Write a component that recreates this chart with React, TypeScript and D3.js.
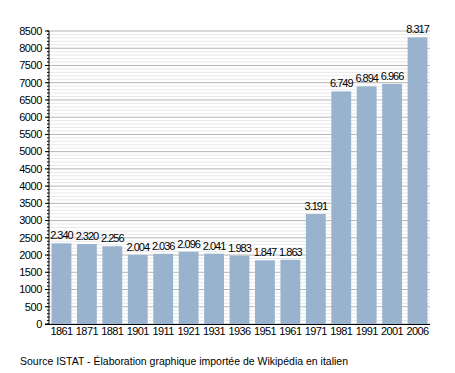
import * as d3 from 'd3';

const years = ['1861', '1871', '1881', '1901', '1911', '1921', '1931', '1936', '1951', '1961', '1971', '1981', '1991', '2001', '2006'];
const population = [2340, 2320, 2256, 2004, 2036, 2096, 2041, 1983, 1847, 1863, 3191, 6749, 6894, 6966, 8317];
const valueLabels = ['2.340', '2.320', '2.256', '2.004', '2.036', '2.096', '2.041', '1.983', '1.847', '1.863', '3.191', '6.749', '6.894', '6.966', '8.317'];
const yTicks = d3.range(0, 8501, 500);
const minorTicks = d3.range(0, 8501, 100);
const sourceNote = 'Source ISTAT - Élaboration graphique importée de Wikipédia en italien';

const W = 455;
const H = 373;
const left = 49;
const right = 430;
const top = 31;
const bottom = 324;
const barColor = '#99b3cf';
const font = '"Liberation Sans", Arial, sans-serif';

export default function App() {
  const x = d3.scaleBand<string>().domain(years).range([left, right]).paddingInner(0.22).paddingOuter(0.1);
  const y = d3.scaleLinear().domain([0, 8500]).range([bottom, top]);

  return (
    <svg width={W} height={H} style={{ position: 'absolute', left: 0, top: 0, background: '#fff' }}>
      {/* minor gridlines */}
      {minorTicks.filter(t => t % 500 !== 0).map(t => (
        <line key={'m' + t} x1={left} x2={right} y1={y(t)} y2={y(t)} stroke="#e8e8e8" strokeWidth={1} />
      ))}
      {/* major gridlines */}
      {yTicks.map(t => (
        <line key={'g' + t} x1={left} x2={right} y1={y(t)} y2={y(t)} stroke="#b4b4b4" strokeWidth={1} />
      ))}
      {/* bars */}
      {years.map((yr, i) => (
        <rect key={yr} x={x(yr)} y={y(population[i])} width={x.bandwidth()} height={bottom - y(population[i])} fill={barColor} />
      ))}
      {/* value labels */}
      {years.map((yr, i) => (
        <text key={'v' + yr} x={x(yr)! + x.bandwidth() / 2} y={y(population[i]) - 4} textAnchor="middle"
          fontFamily={font} fontSize={11} letterSpacing={-1} fill="#000">{valueLabels[i]}</text>
      ))}
      {/* y axis */}
      <line x1={left} x2={left} y1={top} y2={bottom} stroke="#000" strokeWidth={1} />
      <line x1={left - 4} x2={right} y1={bottom + 0.5} y2={bottom + 0.5} stroke="#000" strokeWidth={1} />
      {minorTicks.map(t => (
        <line key={'mt' + t} x1={left - 2} x2={left} y1={y(t)} y2={y(t)} stroke="#000" strokeWidth={1} />
      ))}
      {yTicks.map(t => (
        <g key={'t' + t}>
          <line x1={left - 4} x2={left} y1={y(t)} y2={y(t)} stroke="#000" strokeWidth={1} />
          <text x={left - 7} y={y(t)} dy="0.35em" textAnchor="end" fontFamily={font} fontSize={11} letterSpacing={-0.4} fill="#000">{t}</text>
        </g>
      ))}
      {/* x labels */}
      {years.map(yr => (
        <text key={'x' + yr} x={x(yr)! + x.bandwidth() / 2} y={bottom + 11} textAnchor="middle"
          fontFamily={font} fontSize={11} letterSpacing={-0.6} fill="#000">{yr}</text>
      ))}
      <text x={20} y={365} fontFamily={font} fontSize={10.5} fill="#000">{sourceNote}</text>
    </svg>
  );
}
